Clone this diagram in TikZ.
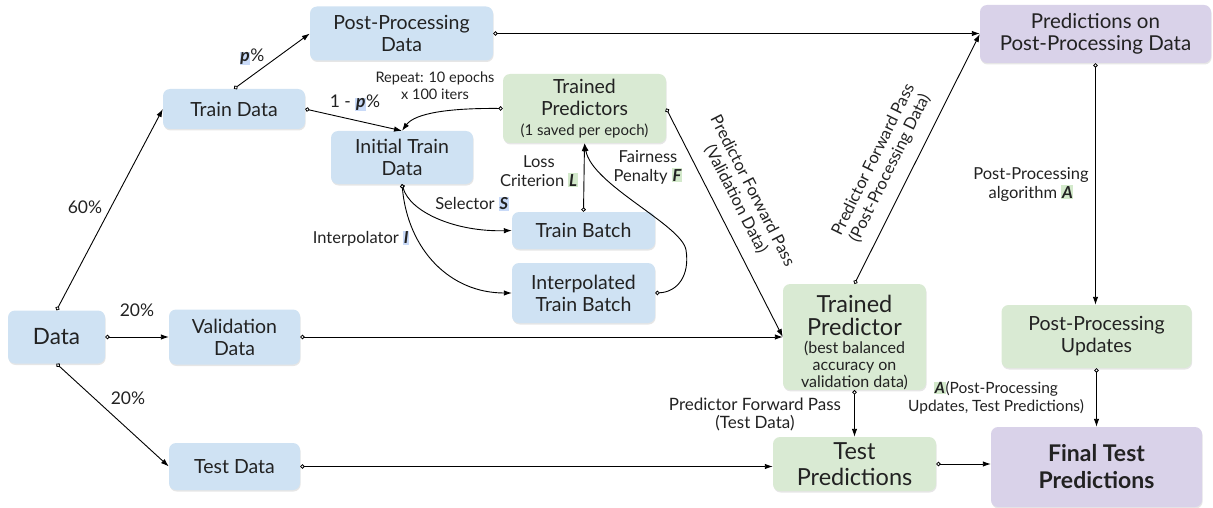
\documentclass[tikz,border=0pt]{standalone}
\usepackage{fontspec}
\setmainfont{Lato}
\usetikzlibrary{arrows.meta,shadows}
\definecolor{bluebox}{HTML}{CFE2F3}
\definecolor{greenbox}{HTML}{D9EAD3}
\definecolor{purplebox}{HTML}{D9D2E9}
\definecolor{hlblue}{HTML}{C9DAF8}
\definecolor{hlgreen}{HTML}{D3E9CB}
\definecolor{txt}{HTML}{222222}
\newcommand{\myfs}[2]{\fontsize{#1}{#2}\selectfont}
\newcommand{\hb}[1]{{\setlength{\fboxsep}{0.7pt}\colorbox{hlblue}{\textbf{\textit{#1}}}}}
\newcommand{\hg}[1]{{\setlength{\fboxsep}{0.7pt}\colorbox{hlgreen}{\textbf{\textit{#1}}}}}
\begin{document}
\begin{tikzpicture}[x=1pt,y=-1pt,
  box/.style={rounded corners=7pt, inner sep=0pt, align=center, text=txt,
    font=\myfs{19.5}{22},
    drop shadow={shadow xshift=0.6pt, shadow yshift=-1.5pt, opacity=0.2}},
  bb/.style={box, fill=bluebox},
  gb/.style={box, fill=greenbox},
  pb/.style={box, fill=purplebox},
  conn/.style={line width=0.9pt,
    {Circle[open, fill=white, length=4.4pt, width=4.4pt, line width=0.8pt]}-{Latex[length=8pt, width=5.5pt]}},
  lab/.style={text=txt, align=center, inner sep=0pt, font=\myfs{16.5}{19}},
]
\useasboundingbox (0,0) rectangle (1213,508);

% nodes
\node[bb, minimum width=97pt, minimum height=53pt, font=\myfs{22.5}{26}] (data) at (56.5,337) {Data};
\node[bb, minimum width=131pt, minimum height=55pt] (val) at (234.5,337) {Validation\\Data};
\node[bb, minimum width=131pt, minimum height=47pt] (test) at (234.5,466.5) {Test Data};
\node[bb, minimum width=142pt, minimum height=40pt] (train) at (234,109) {Train Data};
\node[bb, minimum width=183pt, minimum height=54pt] (ppd) at (401.5,33.5) {Post-Processing\\Data};
\node[bb, minimum width=142pt, minimum height=53pt] (itd) at (402,157.5) {Initial Train\\Data};
\node[gb, minimum width=163pt, minimum height=69pt] (tps) at (584.5,108.5) {Trained\\Predictors\\[-2pt]{\myfs{15}{16}(1 saved per epoch)}};
\node[bb, minimum width=143pt, minimum height=37pt] (tb) at (583.5,230.5) {Train Batch};
\node[bb, minimum width=143pt, minimum height=60pt] (itb) at (583.5,293) {Interpolated\\Train Batch};
\node[gb, minimum width=143pt, minimum height=98pt, font=\myfs{16}{17}] (tp) at (854.5,337)
  {{\myfs{23.5}{23}\rule{0pt}{28pt}Trained}\\[5pt]{\myfs{23.5}{23}Predictor}\\[1pt](best balanced\\accuracy on\\validation data)};
\node[gb, minimum width=163pt, minimum height=54pt, font=\myfs{23.5}{26}] (tpred) at (854.5,464) {Test\\Predictions};
\node[pb, minimum width=211pt, minimum height=80pt, font=\myfs{23}{27}\bfseries] (ftp) at (1096.5,467) {Final Test\\Predictions};
\node[gb, minimum width=190pt, minimum height=63pt] (ppu) at (1096.5,336.5) {Post-Processing\\Updates};
\node[pb, minimum width=231pt, minimum height=58pt, font=\myfs{20.5}{22}] (popd) at (1095.5,34) {Predictions on\\Post-Processing Data};

% connectors
\draw[conn] (data.north) -- (train.west);
\draw[conn] (data.east) -- (val.west);
\draw[conn] (data.south) -- (test.west);
\draw[conn] (train.north) -- (ppd.west);
\draw[conn] (train.east) -- (itd.north);
\draw[conn] (tps.west) .. controls (450,108) and (415,113) .. (itd.north);
\draw[conn] (itd.south) .. controls (410,212) and (455,232) .. (tb.west);
\draw[conn] (itd.south) .. controls (408,250) and (450,293) .. (itb.west);
\draw[conn] (tb.north) -- (tps.south);
\draw[conn] (itb.east) .. controls (678,292) and (690,275) .. (686,250)
  .. controls (682,225) and (592,185) .. (tps.south);
\draw[conn] (tps.east) -- (tp.west);
\draw[conn] (val.east) -- (val.east -| tp.west);
\draw[conn] (tp.north) -- (popd.west);
\draw[conn] (ppd.east) -- (ppd.east -| popd.west);
\draw[conn] (popd.south) -- (popd.south |- ppu.north);
\draw[conn] (ppu.south) -- (ppu.south |- ftp.north);
\draw[conn] (tp.south) -- (tp.south |- tpred.north);
\draw[conn] (test.east) -- (test.east -| tpred.west);
\draw[conn] (tpred.east) -- (tpred.east -| ftp.west);

% labels
\node[lab, font=\myfs{17.5}{20}] (l60) at (85,207) {60\%};
\node[lab, font=\myfs{17.5}{20}] (l20a) at (137,310) {20\%};
\node[lab, font=\myfs{17.5}{20}] (l20b) at (128,398) {20\%};
\node[lab, font=\myfs{17.5}{20}] (lp) at (252,57) {\hb{p}\%};
\node[lab, font=\myfs{17.5}{20}] (l1p) at (355,103) {1 - \hb{p}\%};
\node[lab, font=\myfs{14.5}{17}] (lrep) at (435,86) {Repeat: 10 epochs\\x 100 iters};
\node[lab] (lloss) at (539,171) {Loss\\Criterion \hg{L}};
\node[lab] (lfair) at (648,167) {Fairness\\Penalty \hg{F}};
\node[lab] (lsel) at (472,204) {Selector \hb{S}};
\node[lab] (lint) at (361,239) {Interpolator \hb{I}};
\node[lab] (lalg) at (1031,184) {Post-Processing\\algorithm \hg{A}};
\node[lab, font=\myfs{15.5}{18}] (lapp) at (996,398) {\hg{A}(Post-Processing\\Updates, Test Predictions)};
\node[lab, font=\myfs{17}{18}] (ltest) at (755,414) {Predictor Forward Pass\\(Test Data)};
\node[lab, font=\myfs{16.5}{18.5}, rotate=-63] (lval) at (744,195) {Predictor Forward Pass\\(Validation Data)};
\node[lab, font=\myfs{16.5}{18.5}, rotate=63.8] (lpost) at (882,164) {Predictor Forward Pass\\(Post-Processing Data)};
\end{tikzpicture}
\end{document}
